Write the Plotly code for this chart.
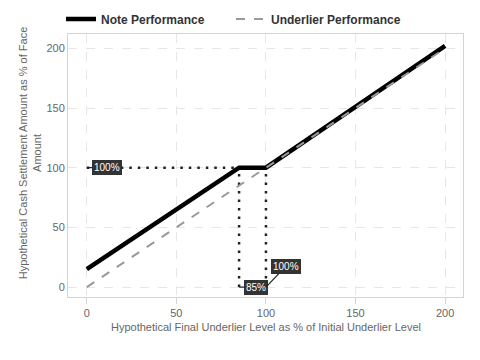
import plotly.graph_objects as go

# Data
note_x = [0, 85, 100, 200]
note_y = [15, 100, 100, 202]
under_x = [0, 200]
under_y = [0, 200]
ref_level = 100
threshold = 85
x_ticks = [0, 50, 100, 150, 200]
y_ticks = [0, 50, 100, 150, 200]
x_title = "Hypothetical Final Underlier Level as % of Initial Underlier Level"
y_title = "Hypothetical Cash Settlement Amount as % of Face<br>Amount"

FONT = "Liberation Sans, Arial"
DOT = "2.5px,6px"
W, H = 472, 352

fig = go.Figure()
fig.add_trace(go.Scatter(x=[0, threshold], y=[ref_level, ref_level], mode="lines",
                         line=dict(color="#222", width=2.5, dash=DOT), showlegend=False, hoverinfo="skip"))
fig.add_trace(go.Scatter(x=[threshold, threshold], y=[0, ref_level], mode="lines",
                         line=dict(color="#222", width=2.5, dash=DOT), showlegend=False, hoverinfo="skip"))
fig.add_trace(go.Scatter(x=[ref_level, ref_level], y=[0, ref_level], mode="lines",
                         line=dict(color="#222", width=2.5, dash=DOT), showlegend=False, hoverinfo="skip"))
fig.add_trace(go.Scatter(x=note_x, y=note_y, mode="lines", name="Note Performance",
                         line=dict(color="#000", width=4.5)))
fig.add_trace(go.Scatter(x=under_x, y=under_y, mode="lines", name="Underlier Performance",
                         line=dict(color="#999", width=2, dash="dash")))

lab = dict(font=dict(color="white", size=10, family=FONT),
           bgcolor="#333", bordercolor="#333", borderpad=1, borderwidth=1,
           showarrow=True, arrowhead=0, arrowcolor="#222", arrowwidth=1.2, xref="x", yref="y")
fig.add_annotation(x=0, y=ref_level, text="100%", ax=20, ay=0, **lab)
fig.add_annotation(x=threshold, y=0, text="85%", ax=17, ay=0, **lab)
fig.add_annotation(x=ref_level, y=0, text="100%", ax=20, ay=-21, **lab)

title_font = dict(color="#666", size=11, family=FONT)
fig.add_annotation(text=x_title, xref="paper", yref="paper", x=0.5, y=0, xanchor="center",
                   yanchor="middle", yshift=-30, showarrow=False, font=title_font)
fig.add_annotation(text=y_title, xref="paper", yref="paper", x=0, y=0.5, xanchor="center",
                   yanchor="middle", xshift=-38, yshift=12, textangle=-90, showarrow=False,
                   font=title_font)

axis_common = dict(showgrid=True, gridcolor="#e6e6e6", griddash="dash", gridwidth=1,
                   zeroline=False, showline=True, linecolor="#cfd5dc", mirror=True,
                   automargin=False,
                   tickfont=dict(color="#666", size=11, family=FONT))
fig.update_xaxes(range=[-10.5, 210], tickvals=x_ticks,
                 ticks="outside", ticklen=6, tickcolor="#d0d6de", **axis_common)
fig.update_yaxes(range=[-8.3, 212.4], tickvals=y_ticks, ticks="", **axis_common)
fig.update_layout(width=W, height=H, margin=dict(l=60, r=17, t=23, b=63),
                  plot_bgcolor="white", paper_bgcolor="white",
                  legend=dict(orientation="h", x=53 / W, xanchor="left", xref="container",
                              y=1 - 11 / H, yanchor="middle", yref="container",
                              entrywidth=125, entrywidthmode="pixels",
                              font=dict(size=12, color="#333", family=FONT, weight="bold"),
                              traceorder="normal", bgcolor="rgba(0,0,0,0)"),
                  font=dict(family=FONT))
fig.write_html("out.html")
